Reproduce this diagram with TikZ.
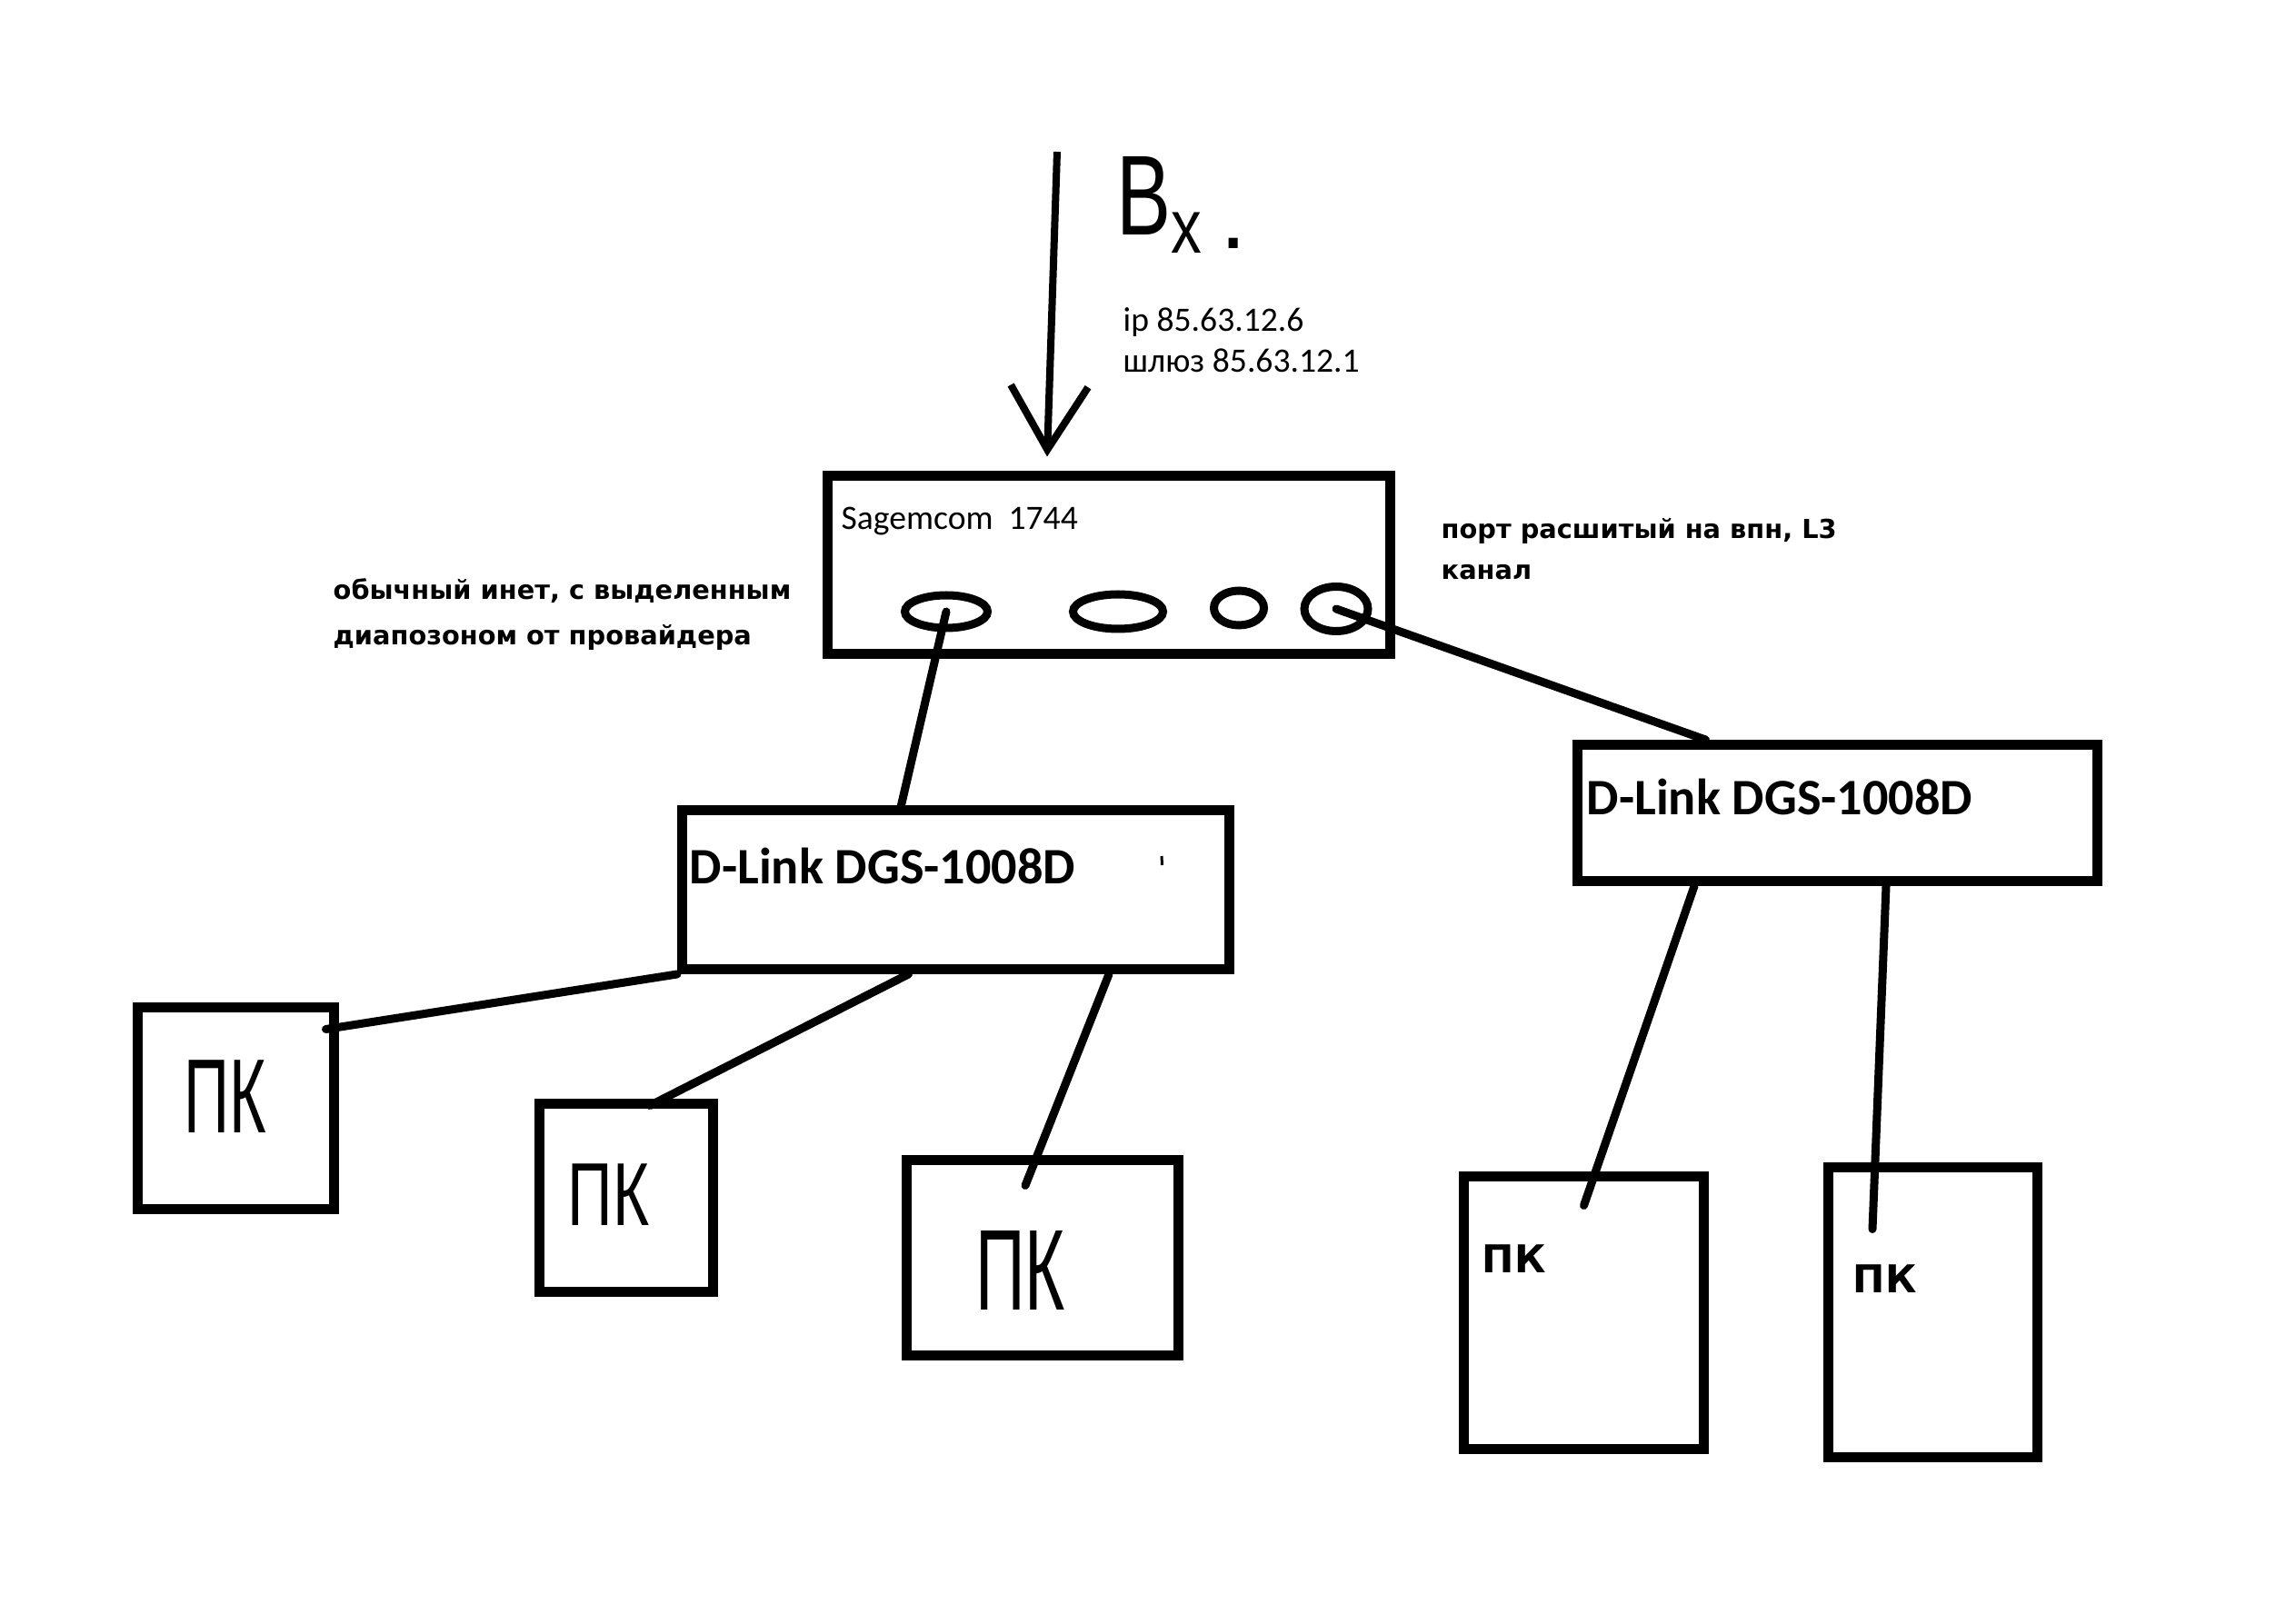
\documentclass[tikz,border=0pt]{standalone}
\usepackage{fontspec}
\setmainfont{Carlito}
\newfontfamily\tahfont{DejaVu Sans}
\newfontfamily\handfont{Liberation Sans}
\usetikzlibrary{shapes.geometric,arrows.meta}
\newcommand{\handtxt}[3]{\scalebox{#1}[1]{\handfont\fontsize{#2}{#2}\selectfont #3}}

\begin{document}
\begin{tikzpicture}[
  box/.style={draw,line width=0.11cm,rectangle,inner sep=0pt},
  port/.style={draw,line width=0.09cm,ellipse,inner sep=0pt},
  wire/.style={line width=0.09cm,line cap=round},
  note/.style={font=\tahfont\bfseries\fontsize{8.2}{10}\selectfont,inner sep=0pt,anchor=base west},
  small/.style={font=\fontsize{10.7}{12}\selectfont,inner sep=0pt,anchor=base west},
  model/.style={font=\bfseries\fontsize{16}{18}\selectfont,inner sep=0pt,anchor=base west},
  pclabel/.style={font=\tahfont\bfseries\fontsize{12}{15}\selectfont,inner sep=0pt,anchor=base west},
  ]
  \useasboundingbox (0,0) rectangle (25.26,17.86);
  \fill[white] (0,0) rectangle (25.26,17.86);

  \node[box,minimum width=6.19cm,minimum height=1.96cm] (sagem) at (12.20,11.645) {};
  \node[port,minimum width=0.91cm,minimum height=0.36cm] (port1) at (10.41,11.13) {};
  \node[port,minimum width=0.99cm,minimum height=0.38cm] (port2) at (12.30,11.13) {};
  \node[port,minimum width=0.55cm,minimum height=0.38cm] (port3) at (13.63,11.17) {};
  \node[port,minimum width=0.70cm,minimum height=0.49cm] (port4) at (14.70,11.16) {};
  \node[small] (sagemname) at (9.25,12.03) {Sagemcom\ \ 1744};

  \coordinate (inet) at (11.63,16.19);
  \draw[line width=0.08cm,-{Straight Barb[length=7mm,width=8.5mm]}] (inet) -- ([xshift=-0.68cm,yshift=0.155cm]sagem.north);
  \node[inner sep=0pt,anchor=base west] (vx) at (12.28,15.27) {\handtxt{0.72}{35.6}{В}\raisebox{-0.2cm}{\handtxt{0.8}{24}{х}}\hspace{0.2cm}\raisebox{-0.15cm}{\handtxt{1}{30}{.}}};
  \node[small] (ipaddr) at (12.35,14.21) {ip 85.63.12.6};
  \node[small] (gwaddr) at (12.35,13.76) {шлюз 85.63.12.1};

  \node[note] (lefta) at (3.66,11.26) {обычный инет, с выделенным};
  \node[note] (leftb) at (3.66,10.76) {диапозоном от провайдера};
  \node[note] (righta) at (15.85,11.93) {порт расшитый на впн, L3};
  \node[note] (rightb) at (15.85,11.48) {канал};

  \node[box,minimum width=6.02cm,minimum height=1.75cm] (sw1) at (10.515,8.07) {};
  \node[model] (sw1name) at (7.58,8.14) {D-Link DGS-1008D};
  \draw[line width=0.03cm] ([xshift=2.265cm,yshift=0.37cm]sw1.center) -- ([xshift=2.27cm,yshift=0.27cm]sw1.center);
  \node[box,minimum width=5.72cm,minimum height=1.50cm] (sw2) at (20.215,8.915) {};
  \node[model] (sw2name) at (17.45,8.90) {D-Link DGS-1008D};

  \node[box,minimum width=2.16cm,minimum height=2.22cm] (pc1) at (2.595,5.665) {};
  \node[box,minimum width=1.91cm,minimum height=2.07cm] (pc2) at (6.89,4.68) {};
  \node[box,minimum width=2.99cm,minimum height=2.15cm] (pc3) at (11.47,4.02) {};
  \node[box,minimum width=2.64cm,minimum height=3.00cm] (pc4) at (17.425,3.415) {};
  \node[box,minimum width=2.30cm,minimum height=3.19cm] (pc5) at (21.265,3.42) {};

  \node[inner sep=0pt] (pc1name) at (2.48,5.795) {\handtxt{0.6}{33}{ПК}};
  \node[inner sep=0pt] (pc2name) at (6.695,4.71) {\handtxt{0.7}{28}{ПК}};
  \node[inner sep=0pt] (pc3name) at (11.225,3.885) {\handtxt{0.6}{36}{ПК}};
  \node[pclabel] (pc4name) at (16.30,3.86) {ПК};
  \node[pclabel] (pc5name) at (20.38,3.64) {ПК};

  \draw[wire] (port1.center) -- ([xshift=-0.6cm]sw1.north);
  \draw[wire] (port4.center) -- ([xshift=-1.45cm]sw2.north);
  \draw[wire] (sw1.south west) -- ([xshift=-0.145cm,yshift=-0.295cm]pc1.north east);
  \draw[wire] ([xshift=-0.52cm]sw1.south) -- ([xshift=0.26cm,yshift=-0.075cm]pc2.north);
  \draw[wire] ([xshift=1.685cm]sw1.south) -- ([xshift=-0.19cm,yshift=-0.335cm]pc3.north);
  \draw[wire] ([xshift=-1.575cm]sw2.south) -- ([yshift=-0.375cm]pc4.north);
  \draw[wire] ([xshift=0.535cm]sw2.south) -- ([xshift=-0.665cm,yshift=-0.735cm]pc5.north);
\end{tikzpicture}
\end{document}
